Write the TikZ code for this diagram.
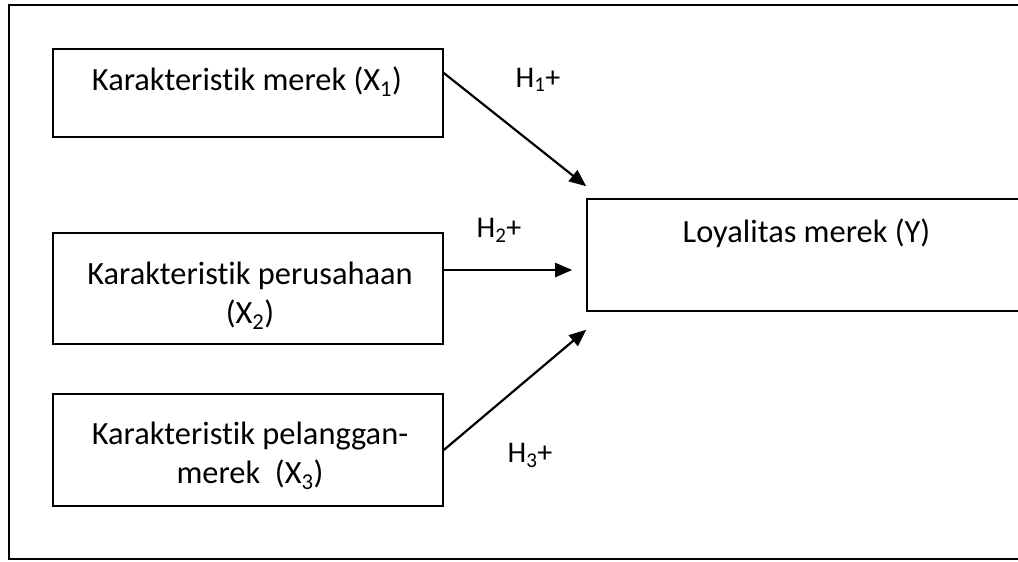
\documentclass[tikz,border=0pt]{standalone}
\usepackage{fontspec}
\setmainfont{Carlito}[Ligatures=NoCommon]
\usetikzlibrary{arrows.meta,calc}
\begin{document}
\begin{tikzpicture}[x=1pt,y=-1pt,
  box/.style={draw, line width=1.6pt, minimum width=390pt, inner sep=0pt},
  lbl/.style={font=\fontsize{32.4}{39}\selectfont, anchor=base, inner sep=0pt, align=center},
  hlbl/.style={font=\fontsize{30}{36}\selectfont, anchor=base, inner sep=0pt},
  arr/.style={line width=2.2pt, -{Triangle[length=17pt,width=14pt]}}]
\useasboundingbox (0,0) rectangle (1018,562);
\clip (0,0) rectangle (1018,562);
\draw[line width=1.8pt] (1030,5) -- (9,5) -- (9,559) -- (1030,559);
\node[box, minimum height=88pt] (x1) at (248,93) {};
\node[box, minimum height=111pt] (x2) at (248,288.5) {};
\node[box, minimum height=112pt] (x3) at (248,450) {};
\node[box, minimum width=439pt, minimum height=112pt] (ly) at (806.5,255) {};
\node[lbl] (t1) at (247,90) {Karakteristik merek (X\textsubscript{1})};
\node[lbl] (t2) at (250,323) {Karakteristik perusahaan\\(X\textsubscript{2})};
\node[lbl] (t3) at (250,483) {Karakteristik pelanggan-\\merek\ \ (X\textsubscript{3})};
\node[lbl] (ty) at (806.5,242) {Loyalitas merek (Y)};
\draw[arr] ([yshift=20pt]x1.east) -- ([yshift=12pt]ly.north west);
\draw[arr] ([yshift=18.5pt]x2.east) -- ([xshift=-14pt,yshift=-15pt]ly.west);
\draw[arr] (x3.east) -- ([yshift=-18pt]ly.south west);
\node[hlbl] (h1) at (538,87) {H\textsubscript{1}+};
\node[hlbl] (h2) at (499,237) {H\textsubscript{2}+};
\node[hlbl] (h3) at (530,462) {H\textsubscript{3}+};
\end{tikzpicture}
\end{document}
